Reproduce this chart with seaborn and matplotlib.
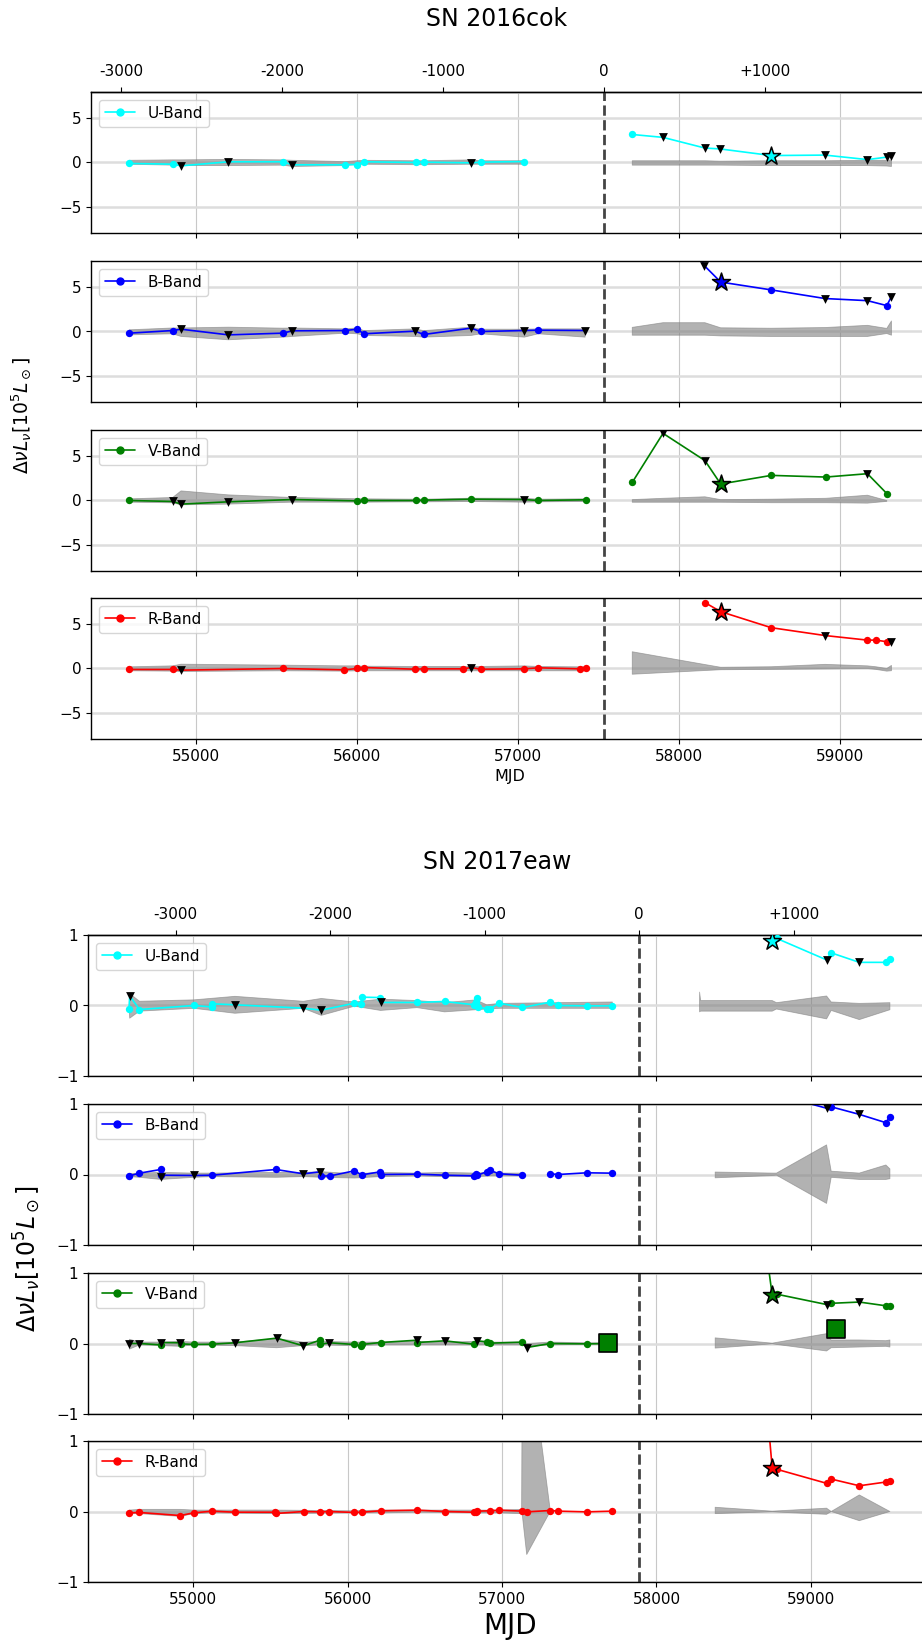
import numpy as np
import pandas as pd
import matplotlib
matplotlib.use("Agg")
import matplotlib.pyplot as plt
import seaborn as sns
from matplotlib.lines import Line2D

nan = np.nan

# ---------------------------------------------------------------- SN 2016cok
cok_t0 = 57536
cok_U_mjd = [54588, 54857, 54909, 55202, 55540, 55600, 55927, 56003, 56043, 56366, 56415, 56709, 56769, 57040, nan,
             57710, 57901, 58161, 58255, 58573, 58907, 59170, 59290, 59319]
cok_U_lum = [-0.11, -0.19, -0.38, 0.08, 0.08, -0.26, -0.26, -0.23, 0.08, 0.0, 0.04, -0.04, 0.04, 0.11, nan,
             3.18, 2.85, 1.64, 1.54, 0.79, 0.84, 0.33, 0.61, 0.79]
cok_U_kind = "oovvovooooovoo-ovvv*vvvv"

cok_B_mjd = [54588, 54857, 54909, 55202, 55540, 55600, 55927, 56003, 56043, 56362, 56415, 56709, 56769, 57040, 57127, 57417, nan,
             57901, 58157, 58259, 58573, 58907, 59170, 59290, 59319]
cok_B_lum = [-0.19, 0.11, 0.26, -0.38, -0.19, 0.08, 0.11, 0.26, -0.26, 0.04, -0.34, 0.38, 0.0, 0.11, 0.15, 0.11, nan,
             17.2, 7.48, 5.61, 4.72, 3.74, 3.50, 2.94, 3.97]
cok_B_kind = "oovvovooovovovov-ov*ovvov"

cok_V_mjd = [54588, 54857, 54909, 55202, 55600, 56003, 56043, 56366, 56415, 56709, 57040, 57127, 57420, nan,
             57710, 57901, 58161, 58259, 58573, 58911, 59170, 59290]
cok_V_lum = [0.0, -0.11, -0.41, -0.15, 0.11, -0.04, 0.0, 0.0, 0.04, 0.15, 0.11, 0.0, 0.08, nan,
             2.06, 7.62, 4.53, 1.87, 2.85, 2.66, 3.04, 0.79]
cok_V_kind = "ovvvvooooovoo-ovv*oovo"

cok_R_mjd = [54588, 54857, 54909, 55540, 55921, 56003, 56043, 56362, 56415, 56661, 56709, 56769, 57040, 57127, 57386, 57420, nan,
             58161, 58259, 58573, 58907, 59170, 59222, 59290, 59319]
cok_R_lum = [-0.11, -0.11, -0.19, 0.0, -0.15, 0.0, 0.11, -0.08, -0.04, -0.04, 0.11, -0.08, -0.04, 0.08, -0.04, 0.04, nan,
             7.48, 6.45, 4.63, 3.74, 3.22, 3.22, 3.04, 3.04]
cok_R_kind = "oovooooooovooooo-o*ovooov"

# scatter envelopes (grey bands)
cok_U_bx = [54588, 54857, 54909, 55202, 55540, 55600, 55927, 56003, 56043, 56366, 56415, 56709, 56769, 57040, nan,
            57710, 57901, 58161, 58255, 58573, 58907, 59170, 59290, 59319]
cok_U_lo = [-0.2, -0.3, -0.35, -0.35, -0.3, -0.45, -0.35, -0.2, -0.2, -0.25, -0.25, -0.2, -0.2, -0.2, nan,
            -0.3, -0.3, -0.3, -0.3, -0.35, -0.35, -0.35, -0.4, -0.45]
cok_U_hi = [0.25, 0.3, 0.3, 0.35, 0.3, 0.25, 0.1, 0.2, 0.25, 0.2, 0.2, 0.3, 0.2, 0.2, nan,
            0.2, 0.2, 0.2, 0.15, 0.2, 0.2, 0.25, 0.25, 0.3]

cok_B_bx = [54588, 54857, 54909, 55202, 55540, 55600, 55927, 56003, 56043, 56362, 56415, 56709, 56769, 57040, 57127, 57417, nan,
            57710, 57901, 58161, 58259, 58573, 58907, 59170, 59290, 59319]
cok_B_lo = [-0.38, -0.26, -0.56, -0.94, -0.64, -0.56, -0.19, -0.26, -0.45, -0.56, -0.64, -0.45, -0.26, -0.64, -0.26, -0.64, nan,
            -0.42, -0.42, -0.42, -0.5, -0.56, -0.56, -0.56, -0.23, -0.42]
cok_B_hi = [0.19, 0.4, 0.4, 0.49, 0.38, 0.4, 0.3, 0.4, 0.1, 0.3, 0.1, 0.49, 0.26, 0.26, 0.3, 0.3, nan,
            0.47, 1.0, 1.0, 0.42, 0.37, 0.45, 0.7, 0.35, 1.2]

cok_V_bx = [54588, 54857, 54909, 55202, 55600, 56003, 56043, 56366, 56415, 56709, 57040, 57127, 57420, nan,
            57710, 57901, 58161, 58259, 58573, 58911, 59170, 59290]
cok_V_lo = [-0.19, -0.26, -0.49, -0.41, -0.19, -0.19, -0.19, -0.15, -0.15, -0.11, -0.19, -0.15, -0.11, nan,
            -0.2, -0.2, -0.2, -0.2, -0.25, -0.25, -0.3, -0.1]
cok_V_hi = [0.19, 0.34, 1.09, 0.64, 0.34, 0.2, 0.19, 0.15, 0.15, 0.26, 0.26, 0.15, 0.19, nan,
            0.1, 0.25, 0.42, 0.1, 0.15, 0.25, 0.6, 0.0]

cok_R_bx = [54588, 54857, 54909, 55540, 55921, 56003, 56043, 56362, 56415, 56661, 56709, 56769, 57040, 57127, 57386, 57420, nan,
            57710, 58161, 58259, 58573, 58907, 59170, 59222, 59290, 59319]
cok_R_lo = [-0.26, -0.3, -0.34, -0.26, -0.3, -0.26, -0.26, -0.26, -0.26, -0.26, -0.26, -0.26, -0.26, -0.26, -0.26, -0.26, nan,
            -0.65, -0.23, -0.14, -0.1, -0.05, 0.0, -0.1, -0.3, -0.25]
cok_R_hi = [0.19, 0.3, 0.49, 0.38, 0.3, 0.3, 0.26, 0.23, 0.23, 0.23, 0.23, 0.23, 0.3, 0.23, 0.19, 0.19, nan,
            1.9, 0.45, 0.14, 0.2, 0.47, 0.3, 0.2, 0.0, 0.35]

# ---------------------------------------------------------------- SN 2017eaw
eaw_t0 = 57887
eaw_U_mjd = [54586, 54590, 54653, 55005, 55120, 55125, 55271, 55714, 55830, 56045, 56088, 56091, 56210, 56214,
             56450, 56628, 56820, 56831, 56838, 56843, 56901, 56924, 56982, 57132, 57312, 57363, 57548, 57714, nan,
             58749, 58777, 59101, 59131, 59313, 59485, 59511]
eaw_U_lum = [-0.047, 0.137, -0.057, 0.0, -0.02, 0.024, 0.01, -0.038, -0.066, 0.033, 0.019, 0.118, 0.113, 0.043,
             0.043, 0.057, 0.01, 0.047, 0.104, -0.024, -0.047, -0.043, 0.033, -0.028, 0.047, 0.0, -0.005, -0.005, nan,
             0.918, 0.953, 0.647, 0.747, 0.612, 0.612, 0.659]
eaw_U_kind = "ovoooovvvoooovoooooooooooooo-*ovovoo"

eaw_B_mjd = [54588, 54653, 54790, 54792, 54795, 55005, 55125, 55536, 55714, 55825, 55830, 55888, 56045, 56091,
             56212, 56214, 56450, 56628, 56820, 56831, 56840, 56901, 56924, 56982, 57132, nan,
             57312, 57363, 57548, 57714, nan,
             58749, 59101, 59131, 59313, 59485, 59511]
eaw_B_lum = [-0.019, 0.019, 0.071, -0.03, -0.01, -0.014, -0.01, 0.071, 0.01, 0.038, -0.024, -0.019, 0.052, -0.005,
             0.038, 0.0, 0.005, -0.01, -0.019, 0.01, -0.01, 0.038, 0.057, 0.01, -0.01, nan,
             0.01, 0.0, 0.024, 0.019, nan,
             1.15, 0.94, 0.96, 0.853, 0.735, 0.82]
eaw_B_kind = "ooovovoovvooooooooooooooo-oooo-ovovoo"

eaw_V_mjd = [54588, 54653, 54790, 54792, 54917, 54920, 55005, 55125, 55271, 55541, 55714, 55822, 55825, 55883,
             56045, 56088, 56091, 56214, 56450, 56452, 56628, 56820, 56838, 56901, 56924, 57132, 57160, 57312,
             57548, 57714, nan,
             58650, 58749, 58777, 59101, 59131, 59313, 59485, 59511]
eaw_V_lum = [0.0, 0.0, -0.019, 0.014, 0.01, -0.005, -0.014, -0.01, 0.01, 0.076, -0.033, 0.047, -0.01, 0.01,
             -0.014, -0.038, -0.014, 0.014, 0.047, 0.014, 0.038, -0.01, 0.038, 0.024, 0.005, 0.019, -0.057, 0.0,
             -0.005, 0.0, nan,
             2.3, 0.688, 0.70, 0.553, 0.57, 0.588, 0.535, 0.535]
eaw_V_kind = "vvovvooovvvoovoooovovovooovooo-o*ovovoo"
eaw_V_sq_mjd = [57683, 59160]
eaw_V_sq_lum = [0.01, 0.21]

eaw_R_mjd = [54588, 54653, 54917, 55005, 55125, 55271, 55533, 55536, 55717, 55822, 55883, 56045, 56091, 56214,
             56450, 56628, 56820, 56831, 56838, 56924, 56982, 57132, 57160, 57312, 57363, 57548, 57714, nan,
             58650, 58749, 58777, 59101, 59131, 59313, 59485, 59511]
eaw_R_lum = [-0.019, -0.014, -0.057, -0.019, 0.005, -0.01, -0.01, -0.028, 0.0, -0.005, 0.0, -0.014, -0.01, 0.01,
             0.019, 0.0, -0.01, -0.01, 0.005, 0.01, 0.019, 0.005, -0.005, 0.014, 0.005, -0.005, 0.005, nan,
             3.1, 0.62, 0.60, 0.40, 0.46, 0.365, 0.418, 0.43]
eaw_R_kind = "ooooooooooooooooooooooooooo-o*oooooo"

eaw_U_bx = [54586, 54590, 54653, 55005, 55271, 55714, 55830, 56045, 56214, 56450, 56628, 56831, 56901, 56982, 57714, nan,
            58279, 58286, 58749, 58777, 59101, 59131, 59313, 59511]
eaw_U_lo = [-0.03, -0.18, -0.08, -0.04, -0.11, -0.04, -0.14, -0.01, -0.07, -0.03, -0.09, -0.06, -0.05, -0.04, -0.04, nan,
            -0.09, -0.08, -0.08, -0.05, -0.19, -0.07, -0.2, -0.06]
eaw_U_hi = [-0.02, 0.17, 0.06, 0.08, 0.13, 0.06, 0.10, 0.05, 0.09, 0.07, 0.04, 0.08, 0.01, 0.03, 0.05, nan,
            0.19, 0.07, 0.07, 0.04, 0.135, 0.05, 0.03, 0.04]

eaw_B_bx = [54588, 54653, 54792, 55005, 55125, 55536, 55714, 55830, 56045, 56214, 56450, 56628, 56831, 56924, 56982, 57132, nan,
            58380, 58749, 58777, 59101, 59131, 59313, 59485, 59511]
eaw_B_lo = [-0.03, -0.04, -0.07, -0.04, -0.03, -0.04, -0.03, -0.04, -0.05, -0.03, -0.02, -0.03, -0.03, -0.02, -0.02, -0.02, nan,
            -0.047, -0.015, -0.01, -0.41, -0.04, -0.07, -0.07, -0.06]
eaw_B_hi = [0.01, 0.02, 0.03, 0.02, 0.02, 0.03, 0.03, 0.04, 0.01, 0.03, 0.02, 0.03, 0.02, 0.03, 0.02, 0.02, nan,
            0.035, 0.02, 0.02, 0.42, 0.047, 0.02, 0.135, 0.08]

eaw_V_bx = [54588, 54653, 54792, 54917, 55005, 55271, 55541, 55714, 55825, 56045, 56214, 56450, 56628, 56838, 56924,
            57132, 57160, 57312, 57548, 57714, nan,
            58380, 58749, 59101, 59131, 59313, 59485, 59511]
eaw_V_lo = [-0.08, -0.02, -0.03, -0.04, -0.02, -0.03, -0.06, -0.03, -0.02, -0.03, -0.02, -0.02, -0.02, -0.02, -0.02,
            -0.02, -0.04, -0.02, -0.01, -0.01, nan,
            -0.065, -0.005, -0.106, -0.06, -0.05, -0.04, -0.05]
eaw_V_hi = [0.06, 0.02, 0.02, 0.03, 0.02, 0.02, 0.07, 0.02, 0.03, 0.02, 0.02, 0.03, 0.02, 0.03, 0.02,
            0.02, 0.0, 0.02, 0.01, 0.01, nan,
            0.08, 0.005, 0.14, 0.05, 0.05, 0.04, 0.05]

eaw_R_bx = [54588, 54653, 54917, 55005, 55125, 55536, 56045, 56214, 56450, 56820, 56982, 57127, 57132, 57160, 57312, nan,
            58380, 58749, 59101, 59131, 59313, 59511]
eaw_R_lo = [-0.03, -0.03, -0.07, -0.03, -0.02, -0.03, -0.02, -0.02, -0.01, -0.02, -0.02, -0.03, -0.06, -0.61, 0.0, nan,
            -0.03, -0.005, -0.04, 0.0, -0.13, 0.0]
eaw_R_hi = [0.02, 0.03, 0.03, 0.02, 0.02, 0.02, 0.01, 0.02, 0.02, 0.02, 0.02, 0.03, 2.6, 2.6, 0.02, nan,
            0.06, 0.005, 0.047, 0.0, 0.235, 0.0]

band_names = ["U", "B", "V", "R"]
band_colors = ["cyan", "blue", "green", "red"]
mjd_ticks = [55000, 56000, 57000, 58000, 59000]
phase_ticks = [-3000, -2000, -1000, 0, 1000]
phase_labels = ["-3000", "-2000", "-1000", "0", "+1000"]

# ---------------------------------------------------------------- style
sns.set_style("ticks")
plt.rcParams.update({
    "font.family": ["DejaVu Sans"],
    "text.color": "black",
    "axes.labelcolor": "black",
    "axes.linewidth": 1.0,
    "axes.edgecolor": "black",
    "xtick.labelsize": 11,
    "ytick.labelsize": 11,
    "xtick.color": "black",
    "ytick.color": "black",
    "xtick.major.size": 3.5,
    "ytick.major.size": 3.5,
})

W, H = 922, 1642
fig = plt.figure(figsize=(W / 100, H / 100), dpi=100)


def add_ax(top, left, right, height=141):
    return fig.add_axes([left / W, 1 - (top + height) / H, (right - left) / W, height / H])


def draw_panel(ax, mjd, lum, kind, bx, blo, bhi, color, name, t0, xlim, ylim, yticks,
               sq_mjd=None, sq_lum=None):
    ax.fill_between(bx, blo, bhi, color="gray", alpha=0.6, lw=0.6, zorder=1.5)

    df = pd.DataFrame({"mjd": mjd, "lum": lum, "kind": list(kind)})
    df["seg"] = df["mjd"].isna().cumsum()
    df = df.dropna()
    sns.lineplot(data=df, x="mjd", y="lum", units="seg", estimator=None, sort=False,
                 color=color, lw=1.2, ax=ax, legend=False, zorder=2)

    det = df[df["kind"] == "o"]
    lim = df[df["kind"] == "v"]
    star = df[df["kind"] == "*"]
    sns.scatterplot(data=det, x="mjd", y="lum", color=color, s=28, linewidth=0, ax=ax, zorder=3)
    if len(lim):
        sns.scatterplot(data=lim, x="mjd", y="lum", color="black", marker="v", s=40,
                        linewidth=0, ax=ax, zorder=3.5)
    if len(star):
        sns.scatterplot(data=star, x="mjd", y="lum", color=color, marker="*", s=185,
                        edgecolor="black", linewidth=1.1, ax=ax, zorder=4)
    if sq_mjd is not None:
        sns.scatterplot(x=sq_mjd, y=sq_lum, color=color, marker="s", s=150,
                        edgecolor="black", linewidth=1.2, ax=ax, zorder=4)

    ax.axvline(t0, color="#444444", ls="--", lw=2, zorder=2.5)
    ax.set_xlim(*xlim)
    ax.set_ylim(*ylim)
    ax.set_yticks(yticks)
    ax.set_xticks(mjd_ticks)
    ax.grid(axis="y", color="#dddddd", lw=1.8, zorder=0)
    ax.grid(axis="x", color="#c8c8c8", lw=0.8, zorder=0)
    ax.set_axisbelow(True)
    ax.set(xlabel="", ylabel="")
    handle = Line2D([0], [0], color=color, marker="o", markersize=5, lw=1.2)
    ax.legend(handles=[handle], labels=[f"{name}-Band"], loc="upper left", fontsize=11,
              framealpha=0.8, edgecolor="#cccccc")


def draw_figure(sets, tops, left, right, xlim, ylim, yticks, t0, title, title_y,
                ylabel_x, ylabel_size, mjd_size, squares=None):
    axes = []
    for i, (name, color) in enumerate(zip(band_names, band_colors)):
        ax = add_ax(tops[i], left, right)
        mjd, lum, kind, bx, blo, bhi = sets[name]
        sq = squares.get(name, (None, None)) if squares else (None, None)
        draw_panel(ax, mjd, lum, kind, bx, blo, bhi, color, name, t0, xlim, ylim, yticks,
                   sq_mjd=sq[0], sq_lum=sq[1])
        if i < 3:
            ax.tick_params(axis="x", labelbottom=False)
        axes.append(ax)
    axes[-1].set_xlabel("MJD", fontsize=mjd_size)
    sec = axes[0].secondary_xaxis("top", functions=(lambda x: x - t0, lambda x: x + t0))
    sec.set_xticks(phase_ticks)
    sec.set_xticklabels(phase_labels)
    sec.tick_params(axis="x", labelsize=11, pad=6)
    cx = (left + right) / 2 - 13
    fig.text(cx / W, 1 - title_y / H, title, ha="center", va="center", fontsize=17)
    mid = (tops[0] + tops[-1] + 141) / 2
    fig.text(ylabel_x / W, 1 - mid / H, r"$\Delta\nu L_\nu[10^5 L_\odot]$", rotation=90,
             ha="center", va="center", fontsize=ylabel_size)


cok_sets = {
    "U": (cok_U_mjd, cok_U_lum, cok_U_kind, cok_U_bx, cok_U_lo, cok_U_hi),
    "B": (cok_B_mjd, cok_B_lum, cok_B_kind, cok_B_bx, cok_B_lo, cok_B_hi),
    "V": (cok_V_mjd, cok_V_lum, cok_V_kind, cok_V_bx, cok_V_lo, cok_V_hi),
    "R": (cok_R_mjd, cok_R_lum, cok_R_kind, cok_R_bx, cok_R_lo, cok_R_hi),
}
eaw_sets = {
    "U": (eaw_U_mjd, eaw_U_lum, eaw_U_kind, eaw_U_bx, eaw_U_lo, eaw_U_hi),
    "B": (eaw_B_mjd, eaw_B_lum, eaw_B_kind, eaw_B_bx, eaw_B_lo, eaw_B_hi),
    "V": (eaw_V_mjd, eaw_V_lum, eaw_V_kind, eaw_V_bx, eaw_V_lo, eaw_V_hi),
    "R": (eaw_R_mjd, eaw_R_lum, eaw_R_kind, eaw_R_bx, eaw_R_lo, eaw_R_hi),
}

draw_figure(cok_sets, [92, 261, 430, 598], 91, 929, (54350, 59552), (-8, 8), [-5, 0, 5],
            cok_t0, "SN 2016cok", 19, 22, 13.5, 11.5)
draw_figure(eaw_sets, [935, 1104, 1273, 1441], 88, 933, (54320, 59790), (-1, 1), [-1, 0, 1],
            eaw_t0, "SN 2017eaw", 862, 27, 17, 20,
            squares={"V": (eaw_V_sq_mjd, eaw_V_sq_lum)})

fig.savefig("out.png", dpi=100)
